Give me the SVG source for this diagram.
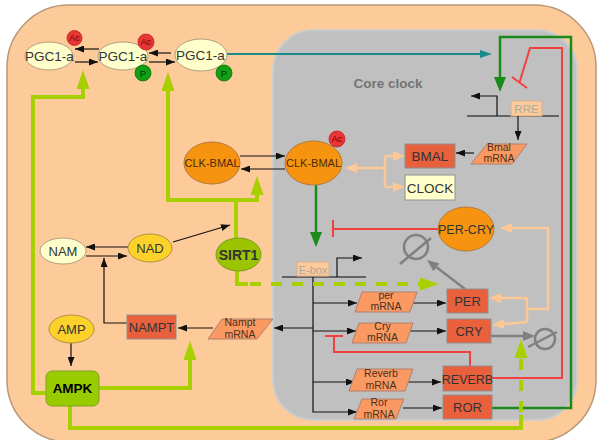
<svg xmlns="http://www.w3.org/2000/svg" width="597" height="440" viewBox="0 0 597 440">
<style>
text{font-family:"Liberation Sans",Arial,sans-serif;fill:#333;text-anchor:middle}
.thin{fill:none;stroke:#111;stroke-width:1.2}
.dna{fill:none;stroke:#444;stroke-width:1.5}
.lime{fill:none;stroke:#a8d000;stroke-width:4}
.dash{stroke-dasharray:11 10}
.dg{fill:none;stroke:#1a8a1a;stroke-width:2.5}
.red{fill:none;stroke:#f04040;stroke-width:2}
.peach{fill:none;stroke:#fcc896;stroke-width:2.5}
.gray{fill:none;stroke:#808080;stroke-width:2.5}
.teal{fill:none;stroke:#1a8a8a;stroke-width:2}
.pgc{fill:#ffffcc;stroke:#b0a080;stroke-width:1}
.orange{fill:#f7940f;stroke:#b07840;stroke-width:1}
.prot{fill:#e8603c;stroke:#909090;stroke-width:1}
.mrna{fill:#fa9a62;stroke:#b08070;stroke-width:1}
.ac{fill:#e83535;stroke:#c02020;stroke-width:.8}
.p{fill:#12a012;stroke:#0a700a;stroke-width:.8}
.mt{font-size:10.5px;fill:#4a3020}
.big{font-size:13px}
</style>
<defs>
<marker id="mB" markerWidth="9" markerHeight="7" refX="9" refY="3.5" orient="auto" markerUnits="userSpaceOnUse"><path d="M0,0L9,3.5L0,7z" fill="#111"/></marker>
<marker id="mL" markerWidth="19" markerHeight="13" refX="0" refY="6.5" orient="auto" markerUnits="userSpaceOnUse"><path d="M0,0L19,6.5L0,13z" fill="#a8d000"/></marker>
<marker id="mG" markerWidth="15" markerHeight="12" refX="0" refY="6" orient="auto" markerUnits="userSpaceOnUse"><path d="M0,0L15,6L0,12z" fill="#1a8a1a"/></marker>
<marker id="mT" markerWidth="12" markerHeight="8" refX="0" refY="4" orient="auto" markerUnits="userSpaceOnUse"><path d="M0,0L12,4L0,8z" fill="#1a8a8a"/></marker>
<marker id="mP" markerWidth="12" markerHeight="10" refX="0" refY="5" orient="auto" markerUnits="userSpaceOnUse"><path d="M0,0L12,5L0,10z" fill="#fcc896"/></marker>
<marker id="mGr" markerWidth="12" markerHeight="10" refX="0" refY="5" orient="auto" markerUnits="userSpaceOnUse"><path d="M0,0L12,5L0,10z" fill="#808080"/></marker>
</defs>

<!-- backgrounds -->
<rect x="7" y="5" width="589" height="437" rx="62" fill="#fdca99" stroke="#b89878" stroke-width="1.5"/>
<rect x="273" y="30" width="304" height="390" rx="40" fill="#c0c0c0" stroke="#cdcdcd" stroke-width="2"/>
<text x="388" y="88" style="font-size:13.5px;font-weight:bold;fill:#747474">Core clock</text>

<!-- DNA elements -->
<g id="rre">
<path class="dna" d="M467,116H559"/>
<rect x="511" y="101" width="31" height="15" fill="#fdca99" stroke="#d8b090"/>
<text x="526.5" y="113" style="font-size:11.5px;fill:#aaa9a0">RRE</text>
</g>
<g id="ebox">
<path class="dna" d="M282,277H366"/>
<rect x="297" y="262" width="32" height="14" fill="#fdca99" stroke="#d8b090"/>
<text x="313" y="273.5" style="font-size:11px;fill:#aaa9a0">E-box</text>
</g>

<!-- connectors -->
<g id="connectors">
<!-- black -->
<path class="thin" d="M99,49H75" marker-end="url(#mB)"/>
<path class="thin" d="M75,62H98" marker-end="url(#mB)"/>
<path class="thin" d="M171,53H149" marker-end="url(#mB)"/>
<path class="thin" d="M149,62H175" marker-end="url(#mB)"/>
<path class="thin" d="M240,156H285" marker-end="url(#mB)"/>
<path class="thin" d="M285,169H241" marker-end="url(#mB)"/>
<path class="thin" d="M128,247H86" marker-end="url(#mB)"/>
<path class="thin" d="M86,256H127" marker-end="url(#mB)"/>
<path class="thin" d="M173,242L230,225" marker-end="url(#mB)"/>
<path class="thin" d="M127,323H104V258" marker-end="url(#mB)"/>
<path class="thin" d="M213,328H178" marker-end="url(#mB)"/>
<path class="thin" d="M313,328H274" marker-end="url(#mB)"/>
<path class="thin" d="M71,343V366" marker-end="url(#mB)"/>
<path class="thin" d="M497,116V96H471" marker-end="url(#mB)"/>
<path class="thin" d="M518,116V140" marker-end="url(#mB)"/>
<path class="thin" d="M474,153H456" marker-end="url(#mB)"/>
<path class="thin" d="M337,277V258H362" marker-end="url(#mB)"/>
<path class="thin" d="M313,277V412H357" marker-end="url(#mB)"/>
<path class="thin" d="M313,303H357" marker-end="url(#mB)"/>
<path class="thin" d="M313,331H356" marker-end="url(#mB)"/>
<path class="thin" d="M313,382H355" marker-end="url(#mB)"/>
<path class="thin" d="M410,303H446" marker-end="url(#mB)"/>
<path class="thin" d="M409,331H446" marker-end="url(#mB)"/>
<path class="thin" d="M405,382H441" marker-end="url(#mB)"/>
<path class="thin" d="M403,408H442" marker-end="url(#mB)"/>
<!-- teal -->
<path class="teal" d="M227,54H480" marker-end="url(#mT)"/>
<!-- dark green -->
<path class="dg" d="M492,408H571V37H500V77" marker-end="url(#mG)"/>
<path class="dg" d="M316,185V232" marker-end="url(#mG)"/>
<!-- red inhibitions -->
<path class="red" d="M492,378H562V48H530L519.5,82.5"/>
<path class="red" d="M512,77L527,88"/>
<path class="red" d="M438,229H333"/>
<path class="red" d="M333,220V237"/>
<path class="red" d="M470,366V352H334V336"/>
<path class="red" d="M325,336H343"/>
<!-- peach -->
<path class="peach" d="M385,168H357" marker-end="url(#mP)"/>
<path class="peach" d="M385,156V187"/>
<path class="peach" d="M385,156H393" marker-end="url(#mP)"/>
<path class="peach" d="M385,187H393" marker-end="url(#mP)"/>
<path class="peach" d="M527,309H548V228H512" marker-end="url(#mP)"/>
<path class="peach" d="M527,298V322"/>
<path class="peach" d="M527,298H501" marker-end="url(#mP)"/>
<path class="peach" d="M527,322L504,324" marker-end="url(#mP)"/>
<!-- gray degradation -->
<path class="gray" d="M465,289L436.5,267.3" marker-end="url(#mGr)"/>
<path class="gray" d="M491,336H523" marker-end="url(#mGr)"/>
<g class="gray">
<circle cx="416" cy="247" r="12"/>
<path d="M400,264L431,238"/>
<circle cx="545" cy="339" r="10"/>
<path d="M528,347L557,332"/>
</g>
<!-- lime -->
<path class="lime" d="M236,238V200H168V91" marker-end="url(#mL)"/>
<path class="lime" d="M236,200H257V195" marker-end="url(#mL)"/>
<path class="lime" d="M237,271V284H248"/>
<path class="lime dash" d="M250,284H420" marker-end="url(#mL)"/>
<path class="lime" d="M46,393H33V97H83V89" marker-end="url(#mL)"/>
<path class="lime" d="M99,388H190V360" marker-end="url(#mL)"/>
<path class="lime" d="M70,406V428H521V415"/>
<path class="lime dash" d="M521,412V358" marker-end="url(#mL)"/>
</g>

<!-- nodes -->
<g id="pgc1a-1"><ellipse class="pgc" cx="49" cy="56" rx="24" ry="14"/><text x="49.5" y="60.5" style="font-size:13.5px">PGC1-a</text><circle class="ac" cx="74.5" cy="38" r="7.5"/><text x="74.5" y="41.2" style="font-size:9px;fill:#700">Ac</text></g>
<g id="pgc1a-2"><ellipse class="pgc" cx="123" cy="56" rx="25" ry="14"/><text x="123" y="60.5" style="font-size:13.5px">PGC1-a</text><circle class="ac" cx="146" cy="42" r="8"/><text x="146" y="45.2" style="font-size:9px;fill:#700">Ac</text><circle class="p" cx="143" cy="73" r="8"/><text x="143" y="76.5" style="font-size:9.5px;fill:#032">P</text></g>
<g id="pgc1a-3"><ellipse class="pgc" cx="201" cy="55" rx="26" ry="16"/><text x="200.5" y="60" style="font-size:13.5px">PGC1-a</text><circle class="p" cx="224" cy="73" r="8"/><text x="224" y="76.5" style="font-size:9.5px;fill:#032">P</text></g>
<g id="clkbmal-1"><ellipse class="orange" cx="212" cy="163" rx="28" ry="21"/><text x="212" y="167" style="font-size:11px;fill:#4a2a0a">CLK-BMAL</text></g>
<g id="clkbmal-2"><ellipse class="orange" cx="313.5" cy="163" rx="28.5" ry="22"/><text x="313.5" y="167" style="font-size:11px;fill:#4a2a0a">CLK-BMAL</text><circle class="ac" cx="337" cy="139" r="8"/><text x="337" y="142.2" style="font-size:9px;fill:#700">Ac</text></g>
<g id="bmal"><rect class="prot" x="405" y="144" width="50" height="24"/><text x="430" y="161" style="font-size:13.5px">BMAL</text></g>
<g id="clock"><rect x="405" y="175" width="50" height="25" fill="#ffffcc" stroke="#909090"/><text x="430" y="192.5" style="font-size:13.5px">CLOCK</text></g>
<g id="bmal-mrna"><polygon class="mrna" points="487,144 527,144 512,164 471,164"/><text class="mt" x="499" y="151">Bmal</text><text class="mt" x="499" y="162">mRNA</text></g>
<g id="percry"><ellipse class="orange" cx="466" cy="229" rx="28" ry="22"/><text x="466" y="233.5" style="font-size:12.5px">PER-CRY</text></g>
<g id="per-mrna"><polygon class="mrna" points="362,292 417,292 410,312 355,312"/><text class="mt" x="386" y="299">per</text><text class="mt" x="386" y="310">mRNA</text></g>
<g id="cry-mrna"><polygon class="mrna" points="359,323 413,323 406,343 352,343"/><text class="mt" x="382.5" y="330">Cry</text><text class="mt" x="382.5" y="341">mRNA</text></g>
<g id="reverb-mrna"><polygon class="mrna" points="357,369 413,369 405,391 349,391"/><text class="mt" x="381" y="377">Reverb</text><text class="mt" x="381" y="388.5">mRNA</text></g>
<g id="ror-mrna"><polygon class="mrna" points="362,399 404,399 396,419 354,419"/><text class="mt" x="379" y="406">Ror</text><text class="mt" x="379" y="417.5">mRNA</text></g>
<g id="per"><rect class="prot" x="447" y="289" width="41" height="24"/><text class="big" x="467.5" y="306">PER</text></g>
<g id="cry"><rect class="prot" x="447" y="319" width="44" height="24"/><text class="big" x="469" y="336">CRY</text></g>
<g id="reverb"><rect class="prot" x="443" y="366" width="49" height="25"/><text x="467.5" y="383.5" style="font-size:12.5px">REVERB</text></g>
<g id="ror"><rect class="prot" x="443" y="395" width="49" height="24"/><text class="big" x="467.5" y="412">ROR</text></g>
<g id="nampt"><rect class="prot" x="127" y="315" width="49" height="24"/><text class="big" x="151.5" y="332">NAMPT</text></g>
<g id="nampt-mrna"><polygon class="mrna" points="222,319 273,319 257,339 208,339"/><text class="mt" x="240" y="326">Nampt</text><text class="mt" x="240" y="337.5">mRNA</text></g>
<g id="nam"><ellipse class="pgc" cx="63" cy="251" rx="23" ry="13"/><text class="big" x="63" y="255.5">NAM</text></g>
<g id="nad"><ellipse cx="150" cy="248" rx="22" ry="14" fill="#fcd22a" stroke="#b09040"/><text class="big" x="150" y="252.5">NAD</text></g>
<g id="sirt1"><ellipse cx="238.5" cy="254.5" rx="22.5" ry="16.5" fill="#9cc400" stroke="#7a9a20"/><text x="238.5" y="259.5" style="font-size:14px;font-weight:bold">SIRT1</text></g>
<g id="amp"><ellipse cx="71.5" cy="329" rx="22.5" ry="14" fill="#fcd22a" stroke="#b09040"/><text class="big" x="71.5" y="333.5">AMP</text></g>
<g id="ampk"><rect x="46" y="371" width="53" height="35" rx="6" fill="#99cc00" stroke="#80a020"/><text x="72.5" y="393" style="font-size:13.5px;font-weight:bold;fill:#000">AMPK</text></g>
</svg>
